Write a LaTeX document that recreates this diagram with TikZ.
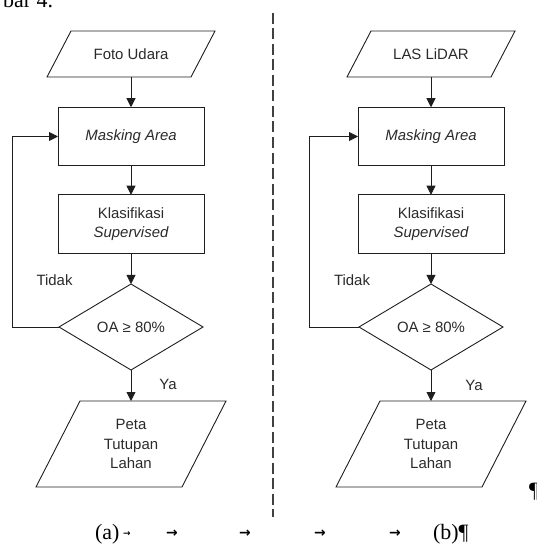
\documentclass[tikz,border=0pt]{standalone}
\usepackage{fontspec}
\setmainfont{Liberation Serif}
\newfontfamily\boxfont{Liberation Sans}
\newfontfamily\markfont{DejaVu Sans}
\usetikzlibrary{shapes.geometric,arrows.meta}
\definecolor{ink}{HTML}{1E1E1E}
\definecolor{txt}{HTML}{2A2A2A}
\begin{document}
\begin{tikzpicture}[x=1bp,y=-1bp,
  every node/.style={inner sep=0pt,outer sep=0pt},
  lbl/.style={font=\boxfont\fontsize{15}{19.5}\selectfont,text=txt,align=center},
  procbox/.style={lbl,draw=ink,line width=0.9bp,rectangle,minimum width=146bp,minimum height=58.5bp},
  iobody/.style={lbl,rectangle},
  decbox/.style={lbl,draw=ink,line width=0.9bp,diamond,shape aspect=1.67,minimum width=144bp,minimum height=86bp},
  arr/.style={draw=ink,line width=0.9bp,-{Triangle[length=9bp,width=9bp]}},
  iopath/.style={draw=ink,line width=0.9bp},
  captext/.style={font=\fontsize{22}{26}\selectfont,text=black,anchor=base west},
  tabmark/.style={font=\markfont\bfseries\fontsize{14}{15}\selectfont,text=black}
]
\useasboundingbox (0,0) rectangle (537,544);

% ---------- top fragment ----------
\node[captext,anchor=base east] (fig) at (53,7.5) {bar 4.};

% ---------- divider ----------
\coordinate (dtop) at (273,13);
\coordinate (dbot) at (273,517);
\draw[draw=black!75,line width=1.3bp,dash pattern=on 11bp off 4.5bp] (dtop) -- (dbot);

% ---------- left flowchart ----------
\node[iobody,minimum width=144bp,minimum height=46bp] (in1) at (131,54) {Foto Udara};
\draw[iopath] ([xshift=12bp]in1.north west) -- ([xshift=12bp]in1.north east)
  -- ([xshift=-12bp]in1.south east) -- ([xshift=-12bp]in1.south west) -- cycle;
\node[procbox] (m1) at (131,136.5) {\itshape Masking Area};
\node[procbox] (k1) at (131,224) {Klasifikasi\\\itshape Supervised};
\node[decbox] (d1) at (131,327) {OA ≥ 80\%};
\node[iobody,minimum width=146bp,minimum height=86bp] (out1) at (131,444) {Peta\\Tutupan\\Lahan};
\draw[iopath] ([xshift=22bp]out1.north west) -- ([xshift=22bp]out1.north east)
  -- ([xshift=-22bp]out1.south east) -- ([xshift=-22bp]out1.south west) -- cycle;
\node[lbl] (t1) at (54.5,280) {Tidak};
\node[lbl] (y1) at (168,384) {Ya};
\coordinate (fb1) at (12,136.5);

\draw[arr] (in1) -- (m1);
\draw[arr] (m1) -- (k1);
\draw[arr] (k1) -- (d1);
\draw[arr] (d1) -- (out1);
\draw[arr] (d1.west) -| (fb1) -- (m1.west);

% ---------- right flowchart ----------
\node[iobody,minimum width=144bp,minimum height=46bp] (in2) at (431,54) {LAS LiDAR};
\draw[iopath] ([xshift=12bp]in2.north west) -- ([xshift=12bp]in2.north east)
  -- ([xshift=-12bp]in2.south east) -- ([xshift=-12bp]in2.south west) -- cycle;
\node[procbox] (m2) at (431,136.5) {\itshape Masking Area};
\node[procbox] (k2) at (431,224) {Klasifikasi\\\itshape Supervised};
\node[decbox] (d2) at (431,327) {OA ≥ 80\%};
\node[iobody,minimum width=146bp,minimum height=86bp] (out2) at (431,444) {Peta\\Tutupan\\Lahan};
\draw[iopath] ([xshift=22bp]out2.north west) -- ([xshift=22bp]out2.north east)
  -- ([xshift=-22bp]out2.south east) -- ([xshift=-22bp]out2.south west) -- cycle;
\node[lbl] (t2) at (352,280) {Tidak};
\node[lbl] (y2) at (474,385) {Ya};
\coordinate (fb2) at (309,136.5);

\draw[arr] (in2) -- (m2);
\draw[arr] (m2) -- (k2);
\draw[arr] (k2) -- (d2);
\draw[arr] (d2) -- (out2);
\draw[arr] (d2.west) -| (fb2) -- (m2.west);

% ---------- paragraph mark right ----------
\node[captext] (pm) at (529,497) {¶};

% ---------- caption line ----------
\node[captext] (ca) at (95,539.5) {(a)};
\node[tabmark,font=\markfont\bfseries\fontsize{9}{10}\selectfont] (tb0) at (127,534) {→};
\node[tabmark] (tb1) at (172,534) {→};
\node[tabmark] (tb2) at (245,534) {→};
\node[tabmark] (tb3) at (320,534) {→};
\node[tabmark] (tb4) at (395,534) {→};
\node[captext] (cb) at (433,539.5) {(b)¶};
\end{tikzpicture}
\end{document}
